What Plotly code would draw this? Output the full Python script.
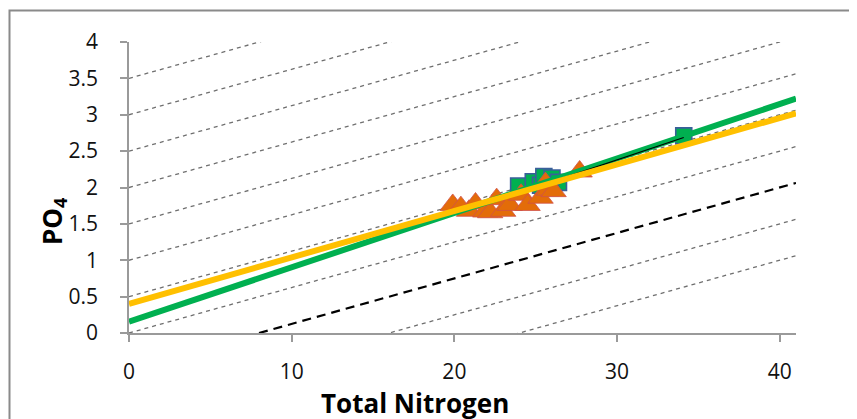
import plotly.graph_objects as go
import numpy as np

# ---------------- data ----------------
x_range = [0, 41]
y_range = [0, 4]
x_ticks = [0, 10, 20, 30, 40]
y_ticks = [0, 0.5, 1, 1.5, 2, 2.5, 3, 3.5, 4]
y_tick_labels = ["0", "0.5", "1", "1.5", "2", "2.5", "3", "3.5", "4"]

# N:P guide lines (slope 1/16), thin and one bold
guide_ratio = 16
thin_intercepts = [3.5, 3, 2.5, 2, 1.5, 1, 0.5, 0, -1, -1.5]
bold_intercepts = [-0.5]

# green squares
sq_x = [23.95, 24.85, 25.3, 25.5, 26.0, 26.4, 25.9, 34.1]
sq_y = [2.02, 2.08, 2.03, 2.15, 2.13, 2.07, 2.00, 2.71]

# orange triangles
tri_x = [19.9, 20.4, 20.9, 21.3, 21.9, 22.2, 22.6, 23.0, 23.4, 24.1, 24.5, 25.3, 25.6, 25.8, 26.1, 27.7]
tri_y = [1.76, 1.73, 1.68, 1.78, 1.67, 1.66, 1.84, 1.68, 1.76, 1.90, 1.76, 1.86, 2.06, 1.97, 1.95, 2.22]

# trend lines (intercept, slope)
green_fit = (0.155, 0.0748)
yellow_fit = (0.40, 0.0639)
black_fit = (0.13, 0.075)
black_x = [23.95, 34.1]

FONT = "Open Sans"

fig = go.Figure()

gx = np.array(x_range, dtype=float)
for c in thin_intercepts:
    fig.add_trace(go.Scatter(x=gx, y=c + gx / guide_ratio, mode="lines",
                             line=dict(color="#6f6f6f", width=1.3, dash="4px,4px"),
                             hoverinfo="skip", showlegend=False))
for c in bold_intercepts:
    fig.add_trace(go.Scatter(x=gx, y=c + gx / guide_ratio, mode="lines",
                             line=dict(color="#000000", width=2.2, dash="9px,6px"),
                             hoverinfo="skip", showlegend=False))

fig.add_trace(go.Scatter(x=sq_x, y=sq_y, mode="markers",
                         marker=dict(symbol="square", size=16, color="#00B050",
                                     line=dict(color="#3A5F9A", width=1.6)),
                         showlegend=False))
fig.add_trace(go.Scatter(x=tri_x, y=tri_y, mode="markers",
                         marker=dict(symbol="triangle-up", size=22, color="#E36C09",
                                     line=dict(color="#D0504A", width=0.8)),
                         showlegend=False))

lx = np.array(x_range, dtype=float)
fig.add_trace(go.Scatter(x=lx, y=green_fit[0] + green_fit[1] * lx, mode="lines",
                         line=dict(color="#00B050", width=6), showlegend=False))
bx = np.array(black_x, dtype=float)
fig.add_trace(go.Scatter(x=bx, y=black_fit[0] + black_fit[1] * bx, mode="lines",
                         line=dict(color="#000000", width=1.2), showlegend=False))
fig.add_trace(go.Scatter(x=lx, y=yellow_fit[0] + yellow_fit[1] * lx, mode="lines",
                         line=dict(color="#FFC000", width=6), showlegend=False))

# page has an 8px body margin; figure sized to fit the 857x419 window
OFF = 8
W, H = 857 - OFF, 419 - OFF
L, R, T, B = 129 - OFF, 61, 42 - OFF, 86
pw, ph = W - L - R, H - T - B

fig.update_layout(
    width=W, height=H,
    margin=dict(l=L, r=R, t=T, b=B, pad=0),
    paper_bgcolor="white", plot_bgcolor="white",
    font=dict(family=FONT, size=20, color="#111111"),
    xaxis=dict(range=x_range, tickvals=x_ticks, showgrid=False, zeroline=False,
               showline=True, linecolor="#9a9a9a", linewidth=1.5,
               ticks="outside", ticklen=7, tickcolor="#9a9a9a", tickwidth=1.5,
               ticklabelstandoff=12, tickfont=dict(size=21)),
    yaxis=dict(range=y_range, tickvals=y_ticks, ticktext=y_tick_labels, showgrid=False,
               zeroline=False, showline=True, linecolor="#9a9a9a", linewidth=1.5,
               ticks="outside", ticklen=7, tickcolor="#9a9a9a", tickwidth=1.5,
               ticklabelstandoff=18, tickfont=dict(size=21)),
    showlegend=False,
)

# titles (positions in window pixels converted to paper coords)
def px_to_paper(xp, yp):
    return (xp - OFF - L) / pw, (H - B - (yp - OFF)) / ph

tx, ty = px_to_paper(415, 403)
fig.add_annotation(text="<b>Total Nitrogen</b>", xref="paper", yref="paper",
                   x=tx, y=ty, xanchor="center", yanchor="middle",
                   showarrow=False, font=dict(family=FONT, size=26, color="#000000"))
px_, py_ = px_to_paper(53, 221)
fig.add_annotation(text="<b>PO<sub>4</sub></b>", xref="paper", yref="paper",
                   x=px_, y=py_, xanchor="center", yanchor="middle",
                   textangle=-90, showarrow=False,
                   font=dict(family=FONT, size=26, color="#000000"))

# outer chart border (extends past right/bottom)
bx0, by1 = px_to_paper(9.5, 10.5)
bx1, by0 = px_to_paper(900, 460)
fig.add_shape(type="rect", xref="paper", yref="paper",
              x0=bx0, x1=bx1, y0=by0, y1=by1,
              line=dict(color="#8a8a8a", width=2), fillcolor="rgba(0,0,0,0)", layer="below")

fig.write_html("out.html")
